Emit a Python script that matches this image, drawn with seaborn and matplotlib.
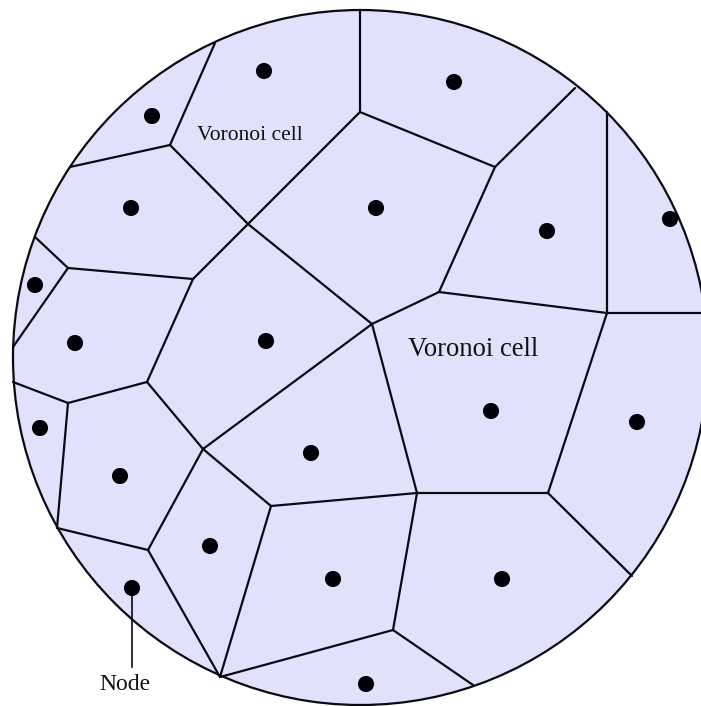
import numpy as np
import matplotlib
matplotlib.use('Agg')
import matplotlib.pyplot as plt
from matplotlib.patches import Circle
import seaborn as sns
import pandas as pd

# node positions (pixel coordinates, y down)
node_x = [264, 152, 131, 35, 75, 266, 454, 376, 547, 670,
          40, 120, 311, 210, 333, 132, 491, 637, 502, 366]
node_y = [71, 116, 208, 285, 343, 341, 82, 208, 231, 219,
          428, 476, 453, 546, 579, 588, 411, 422, 579, 684]

# voronoi vertices
vert_names = ['A', 'B', 'C', 'D', 'E', 'E0', 'F', 'G', 'H', 'H1', 'H2',
              'I', 'J', 'J0', 'K', 'L', 'L0', 'L1', 'M', 'M0', 'N',
              'O', 'O0', 'P', 'Q', 'R', 'S', 'T', 'U', 'U0']
vert_x = [215, 170, 70, 248, 360, 360, 372, 193, 68, 35, 13,
          147, 495, 575, 439, 607, 607, 701, 548, 632, 417,
          393, 473, 220, 271, 203, 148, 57, 68, 13]
vert_y = [43, 145, 167, 224, 112, 10, 324, 279, 268, 237, 347,
          382, 167, 88, 292, 313, 112, 313, 493, 576, 493,
          630, 685, 677, 506, 449, 550, 528, 403, 382]

edges = [('A', 'B'), ('B', 'C'), ('B', 'D'), ('D', 'E'), ('E', 'E0'),
         ('D', 'F'), ('D', 'G'), ('G', 'H'), ('H', 'H1'), ('H', 'H2'),
         ('G', 'I'), ('E', 'J'), ('J', 'J0'), ('J', 'K'), ('K', 'F'),
         ('K', 'L'), ('L', 'L0'), ('L', 'L1'), ('L', 'M'), ('F', 'N'),
         ('N', 'M'), ('M', 'M0'), ('N', 'O'), ('O', 'O0'), ('O', 'P'),
         ('Q', 'N'), ('Q', 'P'), ('Q', 'R'), ('R', 'F'), ('R', 'I'),
         ('R', 'S'), ('S', 'P'), ('S', 'T'), ('T', 'U'), ('U', 'I'),
         ('U', 'U0')]

labels = ['Voronoi cell', 'Voronoi cell', 'Node']

verts = dict(zip(vert_names, zip(vert_x, vert_y)))
nodes = pd.DataFrame({'x': node_x, 'y': node_y})

fig = plt.figure(figsize=(7.01, 7.06), dpi=100)
ax = fig.add_axes([0, 0, 1, 1])

fill = '#e1e1fb'
ink = '#0a0a14'

ax.add_patch(Circle((360.5, 357.5), 347.5, facecolor=fill, edgecolor=ink, lw=1.6, zorder=1))

for a, b in edges:
    (x0, y0), (x1, y1) = verts[a], verts[b]
    ax.plot([x0, x1], [y0, y1], color=ink, lw=1.6, zorder=2, solid_capstyle='round')

sns.scatterplot(data=nodes, x='x', y='y', s=135, color='#000008',
                edgecolor='none', ax=ax, zorder=3)

# node pointer
ax.plot([132, 132], [588, 667], color=ink, lw=1.2, zorder=2)

ax.text(250, 135, labels[0], fontsize=15.5, family='Liberation Serif',
        ha='center', va='center', color='#111111')
ax.text(473, 349, labels[1], fontsize=19.2, family='Liberation Serif',
        ha='center', va='center', color='#111111')
ax.text(125, 684, labels[2], fontsize=17, family='Liberation Serif',
        ha='center', va='center', color='#111111')

ax.set_xlim(0, 701)
ax.set_ylim(706, 0)
ax.set_aspect('auto')
ax.axis('off')

plt.savefig('out.png', dpi=100)
